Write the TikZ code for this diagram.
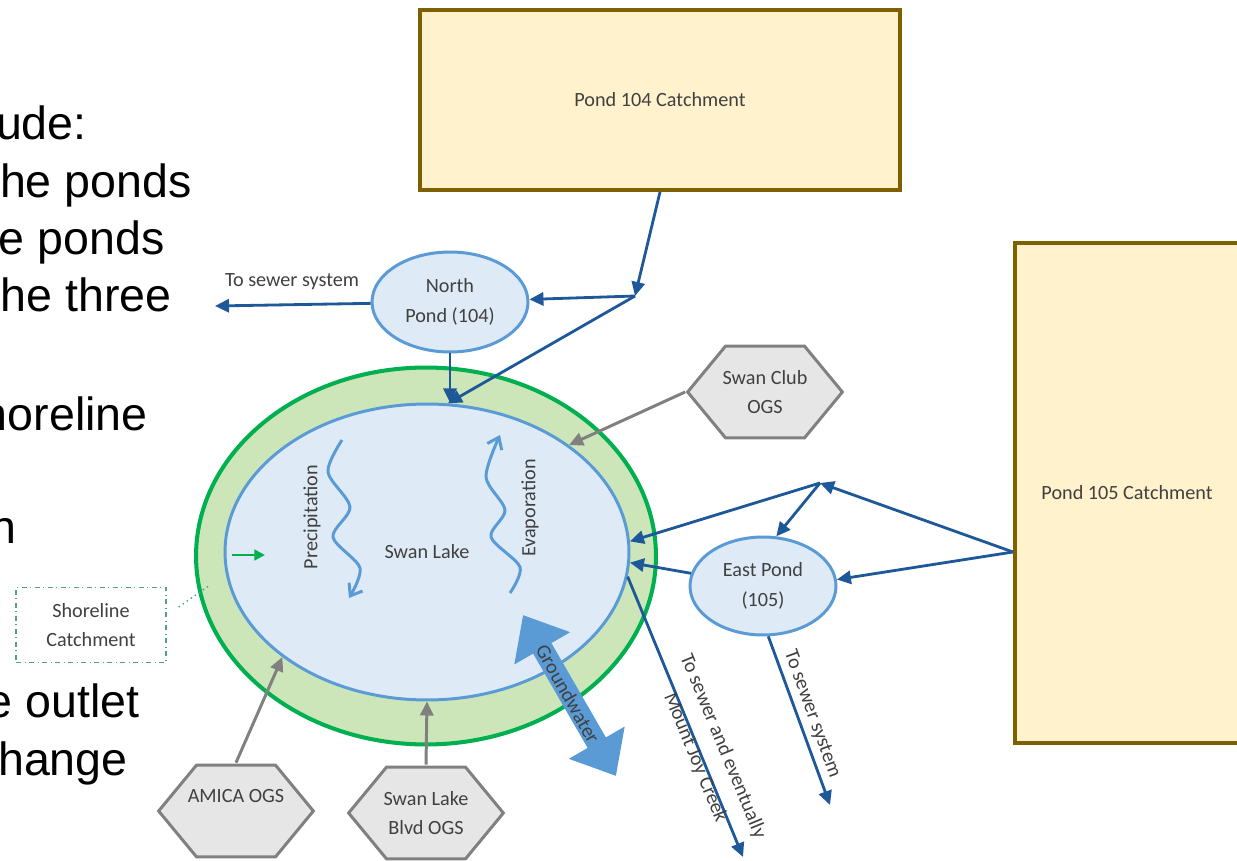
\documentclass[tikz,border=0pt]{standalone}
\usepackage{fontspec}
\setmainfont{Carlito}
\newfontfamily\slidefont{Liberation Sans}
\usetikzlibrary{shapes.geometric,arrows.meta}

\definecolor{flowblue}{RGB}{31,88,152}
\definecolor{pondline}{RGB}{91,155,213}
\definecolor{pondfill}{RGB}{222,235,247}
\definecolor{shoregreen}{RGB}{0,176,80}
\definecolor{shorefill}{RGB}{204,230,186}
\definecolor{catchline}{RGB}{127,96,0}
\definecolor{catchfill}{RGB}{255,242,204}
\definecolor{ogsline}{RGB}{128,128,128}
\definecolor{ogsfill}{RGB}{231,230,230}
\definecolor{labeltext}{RGB}{64,64,64}
\definecolor{dashteal}{RGB}{84,160,128}

\begin{document}
\begin{tikzpicture}[x=0.02cm,y=-0.02cm,
  every node/.style={font=\fontsize{11.5}{17}\selectfont,text=labeltext,align=center},
  catch/.style={draw=catchline,fill=catchfill,line width=2.3pt,inner sep=0pt},
  pond/.style={ellipse,draw=pondline,fill=pondfill,line width=1.7pt,inner sep=0pt},
  ogs/.style={rectangle,minimum width=3.18cm,minimum height=1.92cm,inner sep=0pt,
    path picture={
      \path[fill=ogsfill,draw=ogsline,line width=1.7pt]
        ([xshift=1.2pt]path picture bounding box.west)
        -- ([xshift=0.8cm,yshift=-1.2pt]path picture bounding box.north west)
        -- ([xshift=-0.8cm,yshift=-1.2pt]path picture bounding box.north east)
        -- ([xshift=-1.2pt]path picture bounding box.east)
        -- ([xshift=-0.8cm,yshift=1.2pt]path picture bounding box.south east)
        -- ([xshift=0.8cm,yshift=1.2pt]path picture bounding box.south west)
        -- cycle;}},
  flow/.style={draw=flowblue,line width=1.6pt,-{Triangle[length=8pt,width=7.5pt]}},
  feed/.style={draw=ogsline,line width=1.7pt,-{Triangle[length=8pt,width=7.5pt]}},
  wave/.style={draw=pondline,line width=1.7pt,-{Straight Barb[length=6pt,width=9pt]}},
  slide/.style={font=\slidefont\fontsize{26.5}{30}\selectfont,text=black,anchor=base east,inner sep=0pt}]

\useasboundingbox (0,0) rectangle (1237,861);

% slide text behind the figure
\node[slide] at (87,140) {ude:};
\node[slide] at (192,198) {he ponds};
\node[slide] at (165,255) {e ponds};
\node[slide] at (172,312) {he three};
\node[slide] at (148,430) {horeline};
\node[slide] at (17,543) {n};
\node[slide] at (140,717) {e outlet};
\node[slide] at (128,775) {hange};

% catchments
\node[catch,minimum width=9.6cm,minimum height=3.6cm] (c104) at (660,100) {Pond 104 Catchment};
\node[catch,minimum width=4.5cm,minimum height=10cm] (c105) at (1127,493) {Pond 105 Catchment};

% lake with shoreline band
\node[ellipse,draw=shoregreen,fill=shorefill,line width=2.3pt,minimum width=9.2cm,minimum height=7.54cm] (shore) at (426,556) {};
\node[pond,minimum width=8.08cm,minimum height=5.92cm] (lake) at (427,552) {Swan Lake};

% ponds
\node[pond,minimum width=3.12cm,minimum height=2cm] (npond) at (450,302) {North\\Pond (104)};
\node[pond,minimum width=2.92cm,minimum height=1.96cm] (epond) at (763,586) {East Pond\\(105)};

% OGS units
\node[ogs] (scogs) at (765,392) {Swan Club\\OGS};
\node[ogs] (amica) at (236,811) {AMICA OGS\\\phantom{A}};
\node[ogs] (slbogs) at (426,813) {Swan Lake\\Blvd OGS};

\node[draw=dashteal,dash dot,line width=0.8pt,minimum width=3cm,minimum height=1.5cm] (scbox) at (91,625) {Shoreline\\Catchment};

\coordinate (j104) at (635,296);
\coordinate (j105) at (820,483);
\coordinate (c105out) at (1013,552);
\coordinate (nsewer) at (215,306);
\coordinate (esewer) at (830,805);
\coordinate (creek) at (743,857);
\coordinate (gwin) at (523,615);
\coordinate (gwout) at (616,776);
\coordinate (sclead) at (210,585);
\coordinate (runon) at (232,555);
\coordinate (runin) at (265,555);

% flows
\draw[flow] (c104.south) -- (j104);
\draw[flow] (j104) -- (npond);
\draw[flow] (j104) -- (lake.82);
\draw[flow] (npond) -- (npond |- lake.north);
\draw[flow] (npond) -- (nsewer);
\draw[flow] (c105out) -- (j105);
\draw[flow] (c105out) -- (epond.5);
\draw[flow] (j105) -- (lake.3);
\draw[flow] (j105) -- (epond.75);
\draw[flow] (epond.170) -- (lake.-3);
\draw[flow] (epond.-84) -- (esewer);
\draw[flow] (lake.-7) -- (creek);

\draw[feed] (scogs.west) -- (lake.37);
\draw[feed] (amica.north) -- (lake.216);
\draw[feed] (slbogs.north) -- (lake.south);

\draw[draw=shoregreen,line width=1.7pt,-{Triangle[length=6pt,width=6pt]}] (runon) -- (runin);
\draw[dashteal,dotted,line width=0.8pt] ([xshift=0.24cm,yshift=0.36cm]scbox.east) -- (sclead);

% groundwater exchange
\draw[pondline,line width=12pt,{Triangle[length=0.77cm,width=1.24cm]}-{Triangle[length=0.77cm,width=1.24cm]}] (gwin) -- (gwout);
\node[rotate=-60.7] at (568,694) {Groundwater};

% precipitation / evaporation
\draw[wave] plot[smooth] coordinates {(342,440) (328,472) (350,507) (333,537) (360,568) (349,598)};
\draw[wave] plot[smooth] coordinates {(510,593) (520,567) (491,537) (505,510) (486,477) (500,435)};
\node[rotate=90] at (312,517) {Precipitation};
\node[rotate=90] at (530,508) {Evaporation};

% labels
\node at (292,282) {To sewer system};
\node[rotate=-70] at (812,714) {To sewer system};
\node[rotate=-67.6] at (709,752) {To sewer and eventually\\Mount Joy Creek};

\end{tikzpicture}
\end{document}
